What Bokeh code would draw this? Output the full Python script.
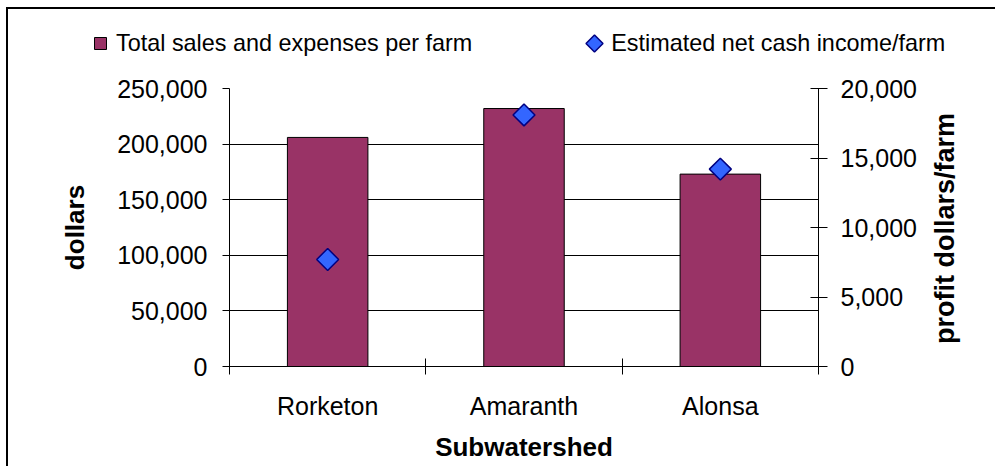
import math

from bokeh.embed import file_html
from bokeh.layouts import column
from bokeh.models import (ColumnDataSource, FixedTicker, Legend, LegendItem,
                          LinearAxis, NumeralTickFormatter, Range1d)
from bokeh.plotting import figure
from bokeh.resources import INLINE

# Farm economics by subwatershed
subwatersheds = ["Rorketon", "Amaranth", "Alonsa"]
sales_expenses = [206000, 232000, 173000]   # dollars, left axis
net_cash_income = [7700, 18100, 14200]      # profit dollars/farm, right axis
dollar_ticks = [0, 50000, 100000, 150000, 200000, 250000]
profit_ticks = [0, 5000, 10000, 15000, 20000]

FONT = "Liberation Sans"
BAR_COLOR = "#993366"
POINT_FILL = "#3366FF"
POINT_LINE = "#000080"
WIDTH, HEIGHT, KEY_HEIGHT = 995, 466, 58

centers = [i + 0.5 for i in range(len(subwatersheds))]
edges = list(range(len(subwatersheds) + 1))

source = ColumnDataSource(dict(x=centers, sales=sales_expenses, income=net_cash_income))


def has_prop(model, name):
    return name in model.properties()


# ---- main chart -------------------------------------------------------------
p = figure(width=WIDTH, height=HEIGHT - KEY_HEIGHT, output_backend="svg",
           toolbar_location=None,
           x_range=Range1d(0, len(subwatersheds)),
           y_range=Range1d(dollar_ticks[0], dollar_ticks[-1]),
           min_border_left=229, min_border_right=177,
           min_border_top=30, min_border_bottom=100)
p.extra_y_ranges = {"profit": Range1d(profit_ticks[0], profit_ticks[-1])}
p.outline_line_color = None
p.background_fill_color = "white"
p.border_fill_alpha = 0

# bottom axis: names at category centres, short crossing ticks at the boundaries
xa = p.xaxis[0]
xa.ticker = FixedTicker(ticks=centers, minor_ticks=edges)
xa.major_label_overrides = {c: name for c, name in zip(centers, subwatersheds)}
xa.major_tick_in = 0
xa.major_tick_out = 0
xa.minor_tick_in = 8
xa.minor_tick_out = 8
xa.minor_tick_line_color = "black"
xa.axis_line_color = "black"
xa.major_label_text_font = FONT
xa.major_label_text_font_size = "25px"
xa.major_label_text_color = "black"
xa.major_label_standoff = 17
xa.axis_label = "Subwatershed"
xa.axis_label_text_font = FONT
xa.axis_label_text_font_size = "26px"
xa.axis_label_text_font_style = "bold"
xa.axis_label_text_color = "black"
xa.axis_label_standoff = 9

# left axis: dollars
ya = p.yaxis[0]
ya.ticker = FixedTicker(ticks=dollar_ticks)
ya.formatter = NumeralTickFormatter(format="0,0")
ya.major_tick_in = 0
ya.major_tick_out = 7
ya.minor_tick_line_color = None
ya.axis_line_color = "black"
ya.major_tick_line_color = "black"
ya.major_label_text_font = FONT
ya.major_label_text_font_size = "25px"
ya.major_label_text_color = "black"
ya.major_label_standoff = 15
ya.axis_label = "dollars"
ya.axis_label_text_font = FONT
ya.axis_label_text_font_size = "26px"
ya.axis_label_text_font_style = "bold"
ya.axis_label_text_color = "black"
ya.axis_label_standoff = 24

# right axis: profit per farm
ra = LinearAxis(y_range_name="profit", ticker=FixedTicker(ticks=profit_ticks),
                formatter=NumeralTickFormatter(format="0,0"))
ra.major_tick_in = 8
ra.major_tick_out = 9
ra.minor_tick_line_color = None
ra.axis_line_color = "black"
ra.major_tick_line_color = "black"
ra.major_label_text_font = FONT
ra.major_label_text_font_size = "25px"
ra.major_label_text_color = "black"
ra.major_label_standoff = 13
p.add_layout(ra, "right")

# title of the right axis, reading bottom to top from just above the zero line
rt = LinearAxis(y_range_name="profit", ticker=FixedTicker(ticks=[]))
rt.axis_line_color = None
rt.major_tick_line_color = None
rt.minor_tick_line_color = None
rt.major_tick_out = 0
rt.major_tick_in = 0
rt.major_label_standoff = 0
rt.axis_label = "\u00a0\u00a0\u00a0profit dollars/farm"
rt.axis_label_text_font = FONT
rt.axis_label_text_font_size = "27px"
rt.axis_label_text_font_style = "bold"
rt.axis_label_text_color = "black"
rt.axis_label_standoff = 25
if has_prop(rt, "axis_label_orientation"):
    rt.axis_label_orientation = math.pi / 2
if has_prop(rt, "axis_label_align"):
    rt.axis_label_align = "start"
p.add_layout(rt, "right")

p.xgrid.visible = False
p.ygrid.ticker = FixedTicker(ticks=dollar_ticks)
p.ygrid.grid_line_color = "black"
p.ygrid.grid_line_alpha = 1.0
p.ygrid.grid_line_width = 1

bar_style = dict(fill_color=BAR_COLOR, line_color="black", line_width=1)
point_style = dict(marker="square", angle=math.pi / 4, fill_color=POINT_FILL,
                   line_color=POINT_LINE, line_width=1.5)

p.vbar(x="x", top="sales", width=0.41, source=source, **bar_style)
p.scatter(x="x", y="income", y_range_name="profit", source=source, size=15.5,
          **point_style)

# ---- key strip above the chart (pixel units) --------------------------------
key = figure(width=WIDTH, height=KEY_HEIGHT, output_backend="svg",
             toolbar_location=None, x_axis_location=None, y_axis_location=None,
             x_range=Range1d(0, WIDTH), y_range=Range1d(0, KEY_HEIGHT),
             min_border=0, outline_line_color=None)
if has_prop(key, "frame_align"):
    key.frame_align = False
    p.frame_align = False
key.grid.visible = False
key.background_fill_alpha = 0
key.border_fill_alpha = 0

bar_key = key.scatter(x="x", y="sales", source=source, marker="square",
                      visible=False, **bar_style)
# the legend draws markers unrotated, so its own swatch for the points is
# blank and the diamond swatch is drawn beside the label instead
point_key = key.scatter(x="x", y="income", source=source, marker="square",
                        visible=False, fill_alpha=0, line_alpha=0)
key.scatter(x=[594], y=[KEY_HEIGHT - 43], size=12, **point_style)

legend = Legend(items=[LegendItem(label="Total sales and expenses per farm",
                                  renderers=[bar_key], index=0),
                       LegendItem(label="Estimated net cash income/farm",
                                  renderers=[point_key], index=0)],
                location=(85, 0), orientation="horizontal",
                glyph_width=30, glyph_height=30, label_standoff=1, spacing=108,
                padding=0, margin=0, border_line_color=None,
                background_fill_alpha=0, inactive_fill_alpha=0,
                label_text_font=FONT, label_text_font_size="23.4px",
                label_text_color="black")
key.add_layout(legend)

# frame line along the top and left of the whole chart
layout = column(key, p, spacing=0,
                styles={"background-color": "white",
                        "box-shadow": "inset 6px 7px 0 0 white, inset 8px 9px 0 0 black"})

open("out.html", "w").write(file_html(layout, INLINE))
